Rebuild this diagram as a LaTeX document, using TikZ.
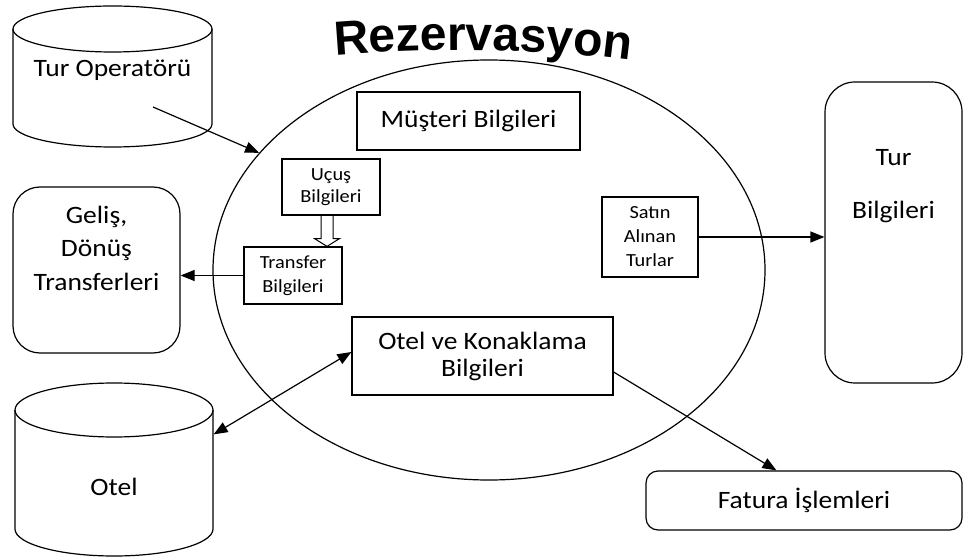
\documentclass[tikz,border=0pt]{standalone}
\usepackage{fontspec}
\setmainfont{Carlito}[FakeStretch=1.1]
\newfontfamily\titlefont{Liberation Sans}
\usetikzlibrary{shapes.geometric,arrows.meta,calc,decorations.text}

\begin{document}
\begin{tikzpicture}[x=1pt,y=1pt,
  line width=1.2pt,
  box/.style={draw, rectangle, inner sep=0pt, align=center},
  bigtxt/.style={font=\fontsize{25}{28}\selectfont},
  area/.style={rectangle, inner sep=0pt},
  arr/.style={-{Triangle[length=14pt,width=11pt]}},
  darr/.style={{Triangle[length=14pt,width=11pt]}-{Triangle[length=14pt,width=11pt]}},
]
\useasboundingbox (0,0) rectangle (965,557);

% central reservation ellipse
\node[ellipse, draw, minimum width=552pt, minimum height=420pt, inner sep=0pt] (res) at (489,287) {};

% arched title
\path[decorate, decoration={text along path, text align=center,
  text={|\titlefont\bfseries\fontsize{48}{48}\selectfont|Rezervasyon}}]
  (318,500) .. controls (420,510) and (545,510) .. (648,494);

% tour operator database
\node[area, minimum width=199pt, minimum height=141pt] (turop) at (112.5,480.5) {};
\draw (13,528) -- (13,433) arc[start angle=180,end angle=360,x radius=99.5,y radius=23] -- (212,528);
\draw (112.5,528) ellipse[x radius=99.5, y radius=23];
\node[bigtxt] (turoplbl) at (112.5,487) {Tur Operatörü};

% hotel database
\node[area, minimum width=198pt, minimum height=173pt] (otel) at (114,87.5) {};
\draw (15,147) -- (15,28) arc[start angle=180,end angle=360,x radius=99,y radius=27] -- (213,147);
\draw (114,147) ellipse[x radius=99, y radius=27];
\node[bigtxt] (otellbl) at (114,70) {Otel};

% transfers
\node[box, rounded corners=27pt, minimum width=167pt, minimum height=166pt] (gel) at (96.5,287) {};
\node[font=\fontsize{25}{33.5}\selectfont, align=center] (gellbl) at (96.5,309) {Geliş,\\Dönüş\\Transferleri};

% tour information
\node[box, rounded corners=30pt, minimum width=137pt, minimum height=301pt] (tur) at (893.5,324.5) {};
\node[font=\fontsize{25}{53}\selectfont, align=center] (turlbl) at (893.5,370.5) {Tur\\Bilgileri};

% boxes inside the ellipse
\node[box, bigtxt, minimum width=223pt, minimum height=58pt] (mus) at (468.5,436) {Müşteri Bilgileri};
\node[box, font=\fontsize{18.5}{22.5}\selectfont, minimum width=98pt, minimum height=56pt] (ucus) at (331,370) {Uçuş\\Bilgileri};
\node[box, font=\fontsize{18.5}{24}\selectfont, minimum width=98pt, minimum height=57pt] (tr) at (293,281.5) {Transfer\\Bilgileri};
\node[box, font=\fontsize{18.5}{24}\selectfont, minimum width=96pt, minimum height=80pt] (sat) at (650,320) {Satın\\Alınan\\Turlar};
\node[box, font=\fontsize{25}{27}\selectfont, minimum width=261pt, minimum height=78pt] (okb) at (482.5,201) {Otel ve Konaklama\\Bilgileri};

% invoicing
\node[box, bigtxt, rounded corners=12pt, minimum width=316pt, minimum height=59pt] (fat) at (804,56.5) {Fatura İşlemleri};

% hollow block arrow from flight to transfer info
\draw[line width=1pt] ($(ucus.south)+(-10,0)$) -- ++(0,-23) -- ++(-6.5,0)
  -- ($(ucus.south|-tr.north)+(-4,0)$) -- ($(ucus.south)+(8.5,-23)$)
  -- ++(-6.5,0) -- ($(ucus.south)+(2,0)$);

% connectors
\coordinate (turopsrc) at (153,450);
\draw[arr] (turopsrc) -- (res.153);
\draw[arr] (tr.west) -- (tr.west -| gel.east);
\draw[arr] (sat.east) -- (sat.east -| tur.west);
\draw[darr] ($(okb.west)+(0,4)$) -- ($(otel.north east)+(0,-52)$);
\draw[arr] ($(okb.east)+(0,-16)$) -- ($(fat.north west)+(131,0)$);
\end{tikzpicture}
\end{document}
